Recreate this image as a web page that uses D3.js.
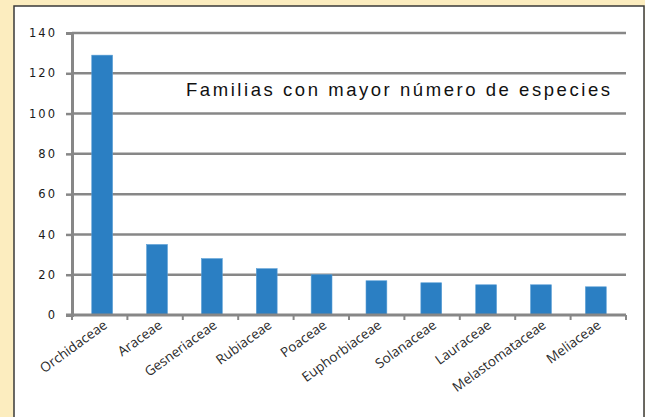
<!DOCTYPE html>
<html>
<head>
<meta charset="utf-8">
<title>Familias</title>
<script src="https://cdn.jsdelivr.net/npm/d3@7"></script>
<style>
  body { margin: 0; background: #fcedbf; }
  svg { display: block; }
</style>
</head>
<body>
<svg width="645" height="417"></svg>
<script>
  var familias = ["Orchidaceae", "Araceae", "Gesneriaceae", "Rubiaceae", "Poaceae",
    "Euphorbiaceae", "Solanaceae", "Lauraceae", "Melastomataceae", "Meliaceae"];
  var especies = [129, 35, 28, 23, 20, 17, 16, 15, 15, 14];
  var yTicks = [0, 20, 40, 60, 80, 100, 120, 140];
  var titulo = "Familias con mayor número de especies";

  var svg = d3.select("svg");

  // white panel
  svg.append("rect")
    .attr("x", 14).attr("y", 6)
    .attr("width", 630).attr("height", 414)
    .attr("fill", "#fff")
    .attr("stroke", "#3a3a3a").attr("stroke-width", 1.5);

  var plotLeft = 72, plotRight = 626, plotTop = 33, plotBottom = 315;

  var x = d3.scaleBand().domain(familias).range([plotLeft, plotRight]).paddingInner(0.62).paddingOuter(0.36);
  var y = d3.scaleLinear().domain([0, 140]).range([plotBottom, plotTop]);

  // gridlines
  svg.append("g").selectAll("line")
    .data(yTicks.slice(1))
    .join("line")
    .attr("x1", plotLeft).attr("x2", plotRight)
    .attr("y1", d => y(d)).attr("y2", d => y(d))
    .attr("stroke", "#878787").attr("stroke-width", 2.5);

  // bars
  svg.append("g").selectAll("rect")
    .data(especies)
    .join("rect")
    .attr("x", (d, i) => x(familias[i]))
    .attr("width", x.bandwidth())
    .attr("y", d => y(d))
    .attr("height", d => y(0) - y(d))
    .attr("fill", "#2b7fc3")
    .attr("stroke", "#5a9fd6").attr("stroke-width", 0.6);

  // y axis
  var yAxis = d3.axisLeft(y).tickValues(yTicks).tickSize(6).tickPadding(9);
  var gy = svg.append("g").attr("transform", "translate(" + plotLeft + ",0)").call(yAxis);
  gy.select(".domain").attr("stroke", "#878787").attr("stroke-width", 3);
  gy.selectAll(".tick line").attr("stroke", "#878787").attr("stroke-width", 2.5);
  gy.selectAll("text")
    .attr("font-family", "DejaVu Sans").attr("font-size", 11.5)
    .attr("letter-spacing", 2).attr("fill", "#1a1a1a");

  // x axis
  var band = (plotRight - plotLeft) / familias.length;
  var xAxisLine = svg.append("g");
  xAxisLine.append("line")
    .attr("x1", plotLeft - 6).attr("x2", plotRight)
    .attr("y1", plotBottom).attr("y2", plotBottom)
    .attr("stroke", "#878787").attr("stroke-width", 3);
  xAxisLine.selectAll("line.tk")
    .data(d3.range(familias.length + 1))
    .join("line").attr("class", "tk")
    .attr("x1", i => plotLeft + i * band).attr("x2", i => plotLeft + i * band)
    .attr("y1", plotBottom).attr("y2", plotBottom + 5)
    .attr("stroke", "#878787").attr("stroke-width", 2);

  svg.append("g").selectAll("text")
    .data(familias)
    .join("text")
    .attr("transform", d => "translate(" + (x(d) + x.bandwidth() / 2 + 6) + "," + (plotBottom + 12) + ") rotate(-36)")
    .attr("text-anchor", "end")
    .attr("font-family", "Open Sans").attr("font-size", 13.5)
    .attr("fill", "#2a2a2a")
    .text(d => d);

  // title inside plot
  svg.append("text")
    .attr("x", 186).attr("y", 96)
    .attr("textLength", 424).attr("lengthAdjust", "spacing")
    .attr("font-family", "Liberation Sans").attr("font-size", 18.5)
    .attr("fill", "#111")
    .text(titulo);
</script>
</body>
</html>
